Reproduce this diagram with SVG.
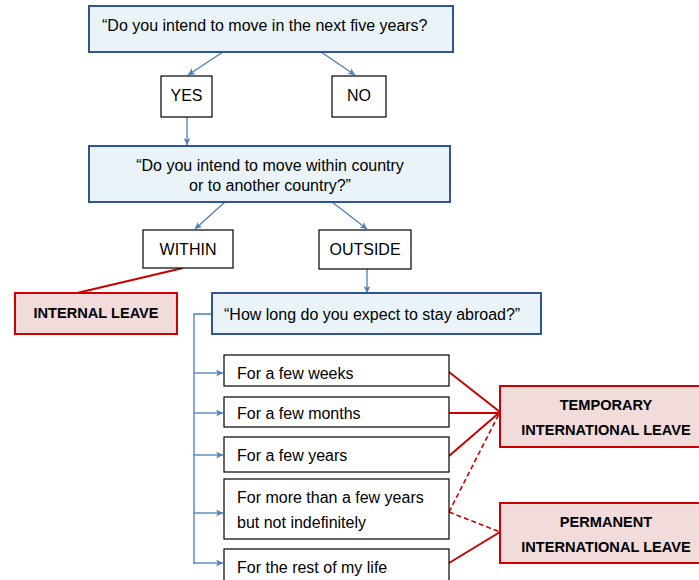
<svg xmlns="http://www.w3.org/2000/svg" width="699" height="580" viewBox="0 0 699 580">
<defs>
<marker id="ah" viewBox="0 0 10 10" refX="10" refY="5" markerWidth="7" markerHeight="7" markerUnits="userSpaceOnUse" orient="auto">
<path d="M0,0 L10,5 L0,10 L3,5 Z" fill="#4a7ebb"/>
</marker>
<style>
text{font-family:"Liberation Sans",Arial,sans-serif;font-size:16px;fill:#000}
.q{fill:#eaf4f8;stroke:#2f5597;stroke-width:2}
.a{fill:#fff;stroke:#000;stroke-width:1.2}
.r{fill:#f2dcdb;stroke:#d00000;stroke-width:2}
.b{font-weight:bold;font-size:14.6px}
.c{stroke:#4a7ebb;stroke-width:1.3;fill:none}
.rl{stroke:#c80000;stroke-width:2;fill:none}
.rd{stroke:#c80000;stroke-width:1.6;fill:none;stroke-dasharray:5,3}
</style>
</defs>
<g id="connectors">
<line class="c" x1="223" y1="52" x2="188" y2="75" marker-end="url(#ah)"/>
<line class="c" x1="321" y1="52" x2="355" y2="75" marker-end="url(#ah)"/>
<line class="c" x1="187" y1="117" x2="187" y2="145" marker-end="url(#ah)"/>
<line class="c" x1="225" y1="202" x2="195" y2="229" marker-end="url(#ah)"/>
<line class="c" x1="332" y1="202" x2="367" y2="229" marker-end="url(#ah)"/>
<line class="c" x1="367" y1="269" x2="367" y2="293" marker-end="url(#ah)"/>
<polyline class="c" points="212,314 194,314 194,564"/>
<line class="c" x1="194" y1="373" x2="223" y2="373" marker-end="url(#ah)"/>
<line class="c" x1="194" y1="413" x2="223" y2="413" marker-end="url(#ah)"/>
<line class="c" x1="194" y1="455" x2="223" y2="455" marker-end="url(#ah)"/>
<line class="c" x1="194" y1="513" x2="223" y2="513" marker-end="url(#ah)"/>
<line class="c" x1="194" y1="563" x2="223" y2="563" marker-end="url(#ah)"/>
<line class="rl" x1="183" y1="268" x2="77" y2="293"/>
<line class="rl" x1="449" y1="372" x2="500" y2="412"/>
<line class="rl" x1="449" y1="413" x2="500" y2="413"/>
<line class="rl" x1="449" y1="456" x2="500" y2="412"/>
<line class="rd" x1="449" y1="512" x2="500" y2="412"/>
<line class="rd" x1="449" y1="512" x2="500" y2="532"/>
<line class="rl" x1="449" y1="563" x2="500" y2="532"/>
</g>
<g id="q1"><rect class="q" x="89" y="6" width="364" height="46"/><text x="102" y="31">“Do you intend to move in the next five years?</text></g>
<g id="yes"><rect class="a" x="161" y="76" width="51" height="41"/><text x="186.5" y="101" text-anchor="middle">YES</text></g>
<g id="no"><rect class="a" x="332" y="76" width="54" height="41"/><text x="359" y="101" text-anchor="middle">NO</text></g>
<g id="q2"><rect class="q" x="89" y="146" width="361" height="56"/><text x="270" y="171" text-anchor="middle">“Do you intend to move within country</text><text x="270" y="191" text-anchor="middle">or to another country?”</text></g>
<g id="within"><rect class="a" x="143" y="230" width="90" height="38"/><text x="188" y="255" text-anchor="middle">WITHIN</text></g>
<g id="outside"><rect class="a" x="319" y="230" width="92" height="39"/><text x="365" y="255" text-anchor="middle">OUTSIDE</text></g>
<g id="internal"><rect class="r" x="15" y="293" width="162" height="41"/><text class="b" x="96" y="318" text-anchor="middle">INTERNAL LEAVE</text></g>
<g id="q3"><rect class="q" x="212" y="293" width="329" height="41"/><text x="224" y="320">“How long do you expect to stay abroad?”</text></g>
<g id="o1"><rect class="a" x="224" y="355" width="225" height="31"/><text x="237" y="379">For a few weeks</text></g>
<g id="o2"><rect class="a" x="224" y="397" width="225" height="30"/><text x="237" y="419">For a few months</text></g>
<g id="o3"><rect class="a" x="224" y="437" width="225" height="35"/><text x="237" y="461">For a few years</text></g>
<g id="o4"><rect class="a" x="224" y="479" width="225" height="60"/><text x="237" y="503">For more than a few years</text><text x="237" y="528">but not indefinitely</text></g>
<g id="o5"><rect class="a" x="224" y="549" width="225" height="40"/><text x="237" y="573">For the rest of my life</text></g>
<g id="temporary"><rect class="r" x="500" y="386" width="210" height="61"/><text class="b" x="606" y="410" text-anchor="middle">TEMPORARY</text><text class="b" x="606" y="435" text-anchor="middle">INTERNATIONAL LEAVE</text></g>
<g id="permanent"><rect class="r" x="500" y="503" width="210" height="60"/><text class="b" x="606" y="527" text-anchor="middle">PERMANENT</text><text class="b" x="606" y="552" text-anchor="middle">INTERNATIONAL LEAVE</text></g>
</svg>
